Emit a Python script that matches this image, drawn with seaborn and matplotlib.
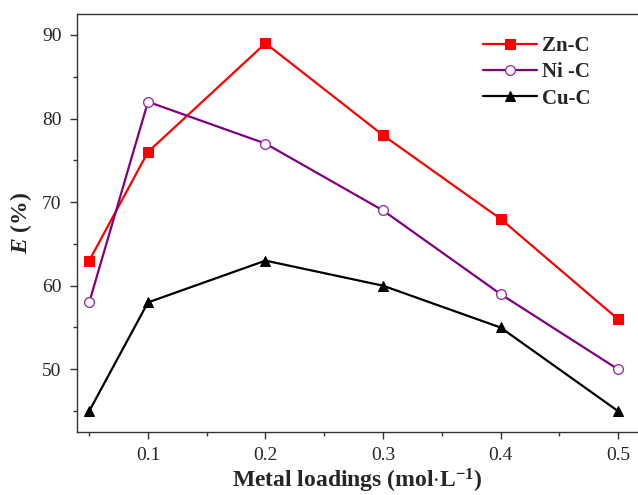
import matplotlib
matplotlib.use("Agg")
import matplotlib.pyplot as plt
import seaborn as sns
import pandas as pd
from matplotlib.ticker import MultipleLocator

loadings = [0.05, 0.1, 0.2, 0.3, 0.4, 0.5]
zn_c = [63, 76, 89, 78, 68, 56]
ni_c = [58, 82, 77, 69, 59, 50]
cu_c = [45, 58, 63, 60, 55, 45]
series_names = ["Zn-C", "Ni -C", "Cu-C"]

sns.set_style("ticks")
plt.rcParams["font.family"] = ["Liberation Serif", "DejaVu Serif"]
plt.rcParams["mathtext.fontset"] = "custom"
plt.rcParams["mathtext.rm"] = "Liberation Serif:bold"
plt.rcParams["mathtext.it"] = "Liberation Serif:bold:italic"
plt.rcParams["mathtext.bf"] = "Liberation Serif:bold"

fig = plt.figure(figsize=(6.38, 4.95), dpi=100)
ax = fig.add_axes([0.1207, 0.1273, 0.8793, 0.8444])

styles = [
    dict(color="#FF0000", marker="s", markersize=6.5, markerfacecolor="#FF0000", markeredgecolor="#FF0000"),
    dict(color="#800080", marker="o", markersize=7, markerfacecolor="white", markeredgecolor="#9933AA", markeredgewidth=1.0),
    dict(color="#000000", marker="^", markersize=7.5, markerfacecolor="#000000", markeredgecolor="#000000"),
]
for name, vals, st in zip(series_names, [zn_c, ni_c, cu_c], styles):
    df = pd.DataFrame({"x": loadings, "y": vals})
    sns.lineplot(data=df, x="x", y="y", ax=ax, label=name, linewidth=1.6, **st)

ax.set_xlim(0.0396, 0.517)
ax.set_ylim(42.5, 92.5)
ax.xaxis.set_major_locator(MultipleLocator(0.1))
ax.xaxis.set_minor_locator(MultipleLocator(0.05))
ax.yaxis.set_major_locator(MultipleLocator(10))
ax.yaxis.set_minor_locator(MultipleLocator(5))
ax.set_xticks([0.1, 0.2, 0.3, 0.4, 0.5])
ax.set_xticklabels(["0.1", "0.2", "0.3", "0.4", "0.5"])
ax.tick_params(axis="both", which="major", direction="out", length=5, width=1, labelsize=14, color="#333333", pad=6)
ax.tick_params(axis="both", which="minor", direction="out", length=3, width=1, color="#333333")
ax.spines["right"].set_visible(False)
for s in ["left", "bottom", "top"]:
    ax.spines[s].set_linewidth(1.0)
    ax.spines[s].set_color("#333333")

ax.set_xlabel(r"Metal loadings (mol$\cdot$L$^{-1}$)", fontsize=17, fontweight="bold", labelpad=2)
ax.set_ylabel(r"$E$ (%)", fontsize=17, fontweight="bold", labelpad=6)

leg = ax.legend(loc="upper right", bbox_to_anchor=(0.948, 0.992), frameon=False,
                prop={"family": "Liberation Serif", "weight": "bold", "size": 15},
                handlelength=2.6, handletextpad=0.2, labelspacing=0.3)

fig.savefig("out.png", dpi=100)
